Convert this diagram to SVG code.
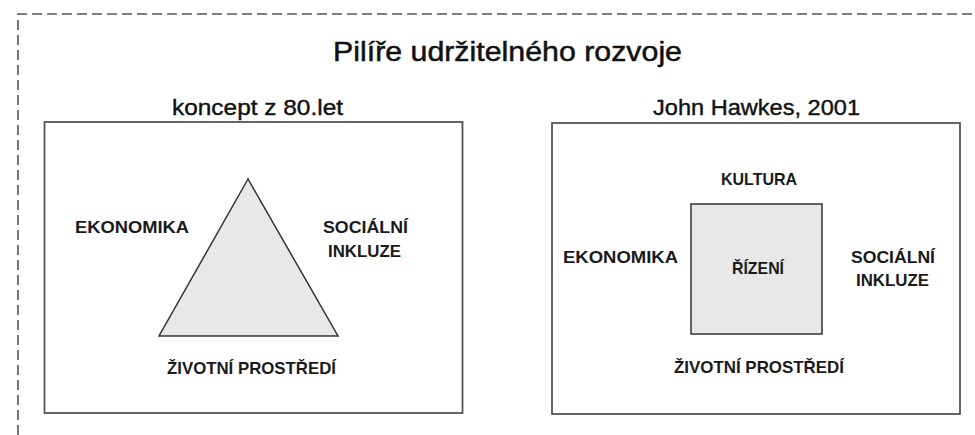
<svg xmlns="http://www.w3.org/2000/svg" width="975" height="435" viewBox="0 0 975 435">
<style>
.frame{fill:none;stroke:#555;stroke-width:1.6;stroke-dasharray:10 5}
.box{fill:#fff;stroke:#555;stroke-width:1.8}
.shape{fill:#e8e8e8;stroke:#333;stroke-width:1.5}
.title{font-family:"Liberation Sans",Arial,sans-serif;font-size:27px;fill:#111;stroke:#111;stroke-width:0.5}
.sub{font-family:"Liberation Sans",Arial,sans-serif;font-size:22px;fill:#111;stroke:#111;stroke-width:0.4}
.lbl{font-family:"Liberation Sans",Arial,sans-serif;font-size:17px;font-weight:bold;fill:#1a1a1a}
</style>
<rect width="975" height="435" fill="#fff"/>
<path class="frame" d="M18 435 V14 H975"/>
<g id="title">
<text class="title" x="333" y="61" textLength="349" lengthAdjust="spacingAndGlyphs">Pilíře udržitelného rozvoje</text>
</g>
<g id="left-panel">
<text class="sub" x="172" y="115" textLength="171" lengthAdjust="spacingAndGlyphs">koncept z 80.let</text>
<rect class="box" x="44.5" y="122" width="418" height="291"/>
</g>
<g id="triangle">
<polygon class="shape" points="248,179 159,336 338,336"/>
</g>
<g id="left-labels">
<text class="lbl" x="75" y="233" textLength="114" lengthAdjust="spacingAndGlyphs">EKONOMIKA</text>
<text class="lbl" x="323" y="233" textLength="85" lengthAdjust="spacingAndGlyphs">SOCIÁLNÍ</text>
<text class="lbl" x="328" y="257" textLength="73" lengthAdjust="spacingAndGlyphs">INKLUZE</text>
<text class="lbl" x="167" y="374" textLength="169" lengthAdjust="spacingAndGlyphs">ŽIVOTNÍ PROSTŘEDÍ</text>
</g>
<g id="right-panel">
<text class="sub" x="653" y="115" textLength="207" lengthAdjust="spacingAndGlyphs">John Hawkes, 2001</text>
<rect class="box" x="552" y="123" width="408" height="291"/>
</g>
<g id="square">
<rect class="shape" x="691" y="204" width="131" height="130"/>
<text class="lbl" x="732" y="274" textLength="52" lengthAdjust="spacingAndGlyphs">ŘÍZENÍ</text>
</g>
<g id="right-labels">
<text class="lbl" x="721" y="185" textLength="76" lengthAdjust="spacingAndGlyphs">KULTURA</text>
<text class="lbl" x="563" y="263" textLength="115" lengthAdjust="spacingAndGlyphs">EKONOMIKA</text>
<text class="lbl" x="851" y="263" textLength="84" lengthAdjust="spacingAndGlyphs">SOCIÁLNÍ</text>
<text class="lbl" x="856" y="286" textLength="73" lengthAdjust="spacingAndGlyphs">INKLUZE</text>
<text class="lbl" x="674" y="373" textLength="170" lengthAdjust="spacingAndGlyphs">ŽIVOTNÍ PROSTŘEDÍ</text>
</g>
<g id="connectors"></g>
</svg>
